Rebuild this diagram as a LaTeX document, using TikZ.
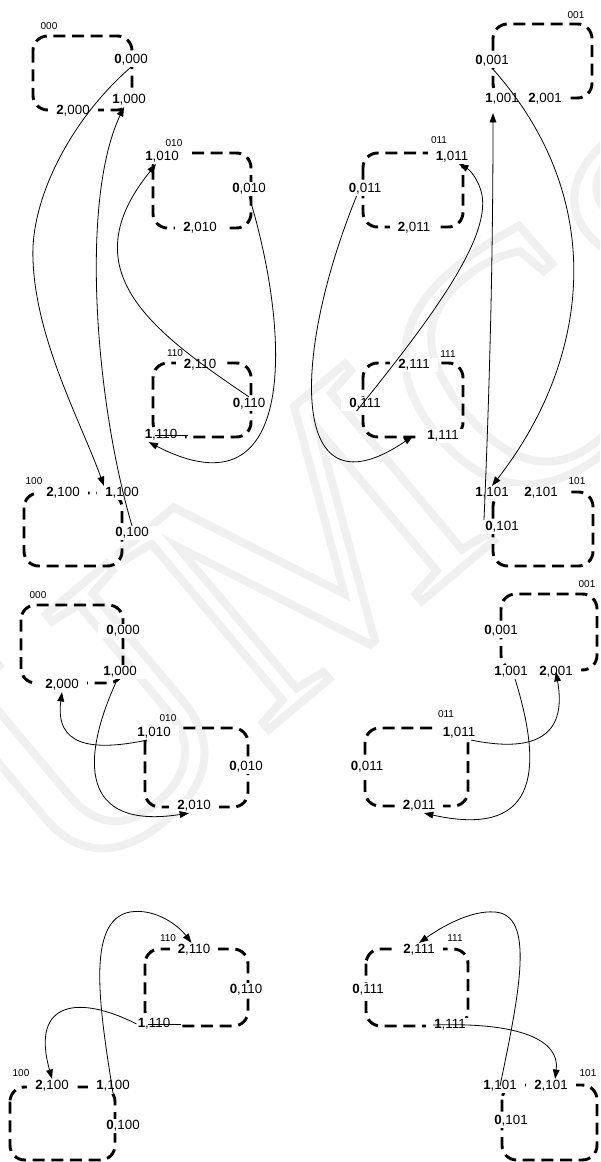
\documentclass[tikz,border=0pt]{standalone}
\usepackage{fontspec}
\setmainfont{Liberation Sans}
\newfontfamily\wmfont{Liberation Serif}
\usetikzlibrary{arrows.meta}

\begin{document}
\begin{tikzpicture}%
        [x=0.75pt,
        y=-0.75pt,
        box/.style={draw=black, line width=2.2pt, rounded corners=11pt, dash pattern=on 9pt off 5pt},
        lab/.style={fill=white, inner xsep=6pt, inner ysep=1pt, outer xsep=-5pt, font=\fontsize{10}{12}\selectfont},
        tag/.style={inner sep=0pt, font=\fontsize{7.5}{9}\selectfont},
        edge/.style={line width=0.6pt, -{Triangle[length=7pt,width=5pt]}},
        stub/.style={line width=0.6pt},
        wmark/.style={inner sep=0pt, rotate=40, text=black!6, font=\wmfont\fontsize{265}{265}\selectfont}]
    %
    \useasboundingbox (0,0) rectangle (600,1162);
    %
    %% Watermark (outlined letters)
    \begin{scope}
    \clip (0,0) rectangle (600,1162);
    \node[wmark] (wm) at (375,490) {\special{pdf:code 1 Tr 6 w}UMCS\special{pdf:code 0 Tr}};
    \end{scope}
    %%
    %%
    %% Drawing the states (upper diagram)
    %%
    \draw[box] (33,36) rectangle (132,110);
    \draw[box] (153,153) rectangle (251,228);
    \draw[box] (493,24) rectangle (592,98);
    \draw[box] (363,153) rectangle (463,227);
    \draw[box] (153,363) rectangle (251,437);
    \draw[box] (24,493) rectangle (122,566);
    \draw[box] (363,363) rectangle (463,437);
    \draw[box] (493,492) rectangle (593,566);
    %%
    %% Drawing the states (lower diagram)
    %%
    \draw[box] (21,605) rectangle (123,683);
    \draw[box] (145,728) rectangle (248,807);
    \draw[box] (501,594) rectangle (597,670);
    \draw[box] (365,728) rectangle (468,806);
    \draw[box] (145,949) rectangle (248,1026);
    \draw[box] (10,1087) rectangle (115,1160);
    \draw[box] (366,949) rectangle (468,1026);
    \draw[box] (502,1085) rectangle (597,1160);
    %%
    %%
    %% Labels (upper diagram)
    %%
    \node[lab] (t000-0) at (131,60) {\textbf{0},000};
    \node[lab] (t000-1) at (129,100) {\textbf{1},000};
    \node[lab] (t000-2) at (73,111) {\textbf{2},000};
    \node[lab] (t010-1) at (162,157) {\textbf{1},010};
    \node[lab] (t010-0) at (249,189) {\textbf{0},010};
    \node[lab] (t010-2) at (200,228) {\textbf{2},010};
    \node[lab] (t001-0) at (492,61) {\textbf{0},001};
    \node[lab] (t001-1) at (502,99) {\textbf{1},001};
    \node[lab] (t001-2) at (545,99) {\textbf{2},001};
    \node[lab] (t011-1) at (452,157) {\textbf{1},011};
    \node[lab] (t011-0) at (365,189) {\textbf{0},011};
    \node[lab] (t011-2) at (414,228) {\textbf{2},011};
    \node[lab] (t110-2) at (200,365) {\textbf{2},110};
    \node[lab] (t110-0) at (249,404) {\textbf{0},110};
    \node[lab] (t110-1) at (161,435) {\textbf{1},110};
    \node[lab] (t100-2) at (63,493) {\textbf{2},100};
    \node[lab] (t100-1) at (122,493) {\textbf{1},100};
    \node[lab] (t100-0) at (132,533) {\textbf{0},100};
    \node[lab] (t111-2) at (414,365) {\textbf{2},111};
    \node[lab] (t111-0) at (365,404) {\textbf{0},111};
    \node[lab] (t111-1) at (443,436) {\textbf{1},111};
    \node[lab] (t101-1) at (492,493) {\textbf{1},101};
    \node[lab] (t101-2) at (541,493) {\textbf{2},101};
    \node[lab] (t101-0) at (502,527) {\textbf{0},101};
    %%
    \node[tag] (t000) at (49,26) {000};
    \node[tag] (t010) at (174,143) {010};
    \node[tag] (t001) at (576,15) {001};
    \node[tag] (t011) at (439,140) {011};
    \node[tag] (t110) at (175,353) {110};
    \node[tag] (t100) at (34,481) {100};
    \node[tag] (t111) at (448,354) {111};
    \node[tag] (t101) at (577,481) {101};
    %%
    %% Labels (lower diagram)
    %%
    \node[lab] (b000-0) at (123,631) {\textbf{0},000};
    \node[lab] (b000-1) at (120,672) {\textbf{1},000};
    \node[lab] (b000-2) at (62,685) {\textbf{2},000};
    \node[lab] (b010-1) at (154,733) {\textbf{1},010};
    \node[lab] (b010-0) at (246,767) {\textbf{0},010};
    \node[lab] (b010-2) at (194,806) {\textbf{2},010};
    \node[lab] (b001-0) at (501,631) {\textbf{0},001};
    \node[lab] (b001-1) at (511,672) {\textbf{1},001};
    \node[lab] (b001-2) at (556,672) {\textbf{2},001};
    \node[lab] (b011-1) at (459,733) {\textbf{1},011};
    \node[lab] (b011-0) at (367,767) {\textbf{0},011};
    \node[lab] (b011-2) at (419,806) {\textbf{2},011};
    \node[lab] (b110-2) at (194,950) {\textbf{2},110};
    \node[lab] (b110-0) at (246,990) {\textbf{0},110};
    \node[lab] (b110-1) at (154,1024) {\textbf{1},110};
    \node[lab] (b100-2) at (52,1086) {\textbf{2},100};
    \node[lab] (b100-1) at (113,1086) {\textbf{1},100};
    \node[lab] (b100-0) at (123,1126) {\textbf{0},100};
    \node[lab] (b111-2) at (419,950) {\textbf{2},111};
    \node[lab] (b111-0) at (368,990) {\textbf{0},111};
    \node[lab] (b111-1) at (450,1025) {\textbf{1},111};
    \node[lab] (b101-1) at (500,1086) {\textbf{1},101};
    \node[lab] (b101-2) at (551,1086) {\textbf{2},101};
    \node[lab] (b101-0) at (511,1121) {\textbf{0},101};
    %%
    \node[tag] (b000) at (38,595) {000};
    \node[tag] (b010) at (168,718) {010};
    \node[tag] (b001) at (587,584) {001};
    \node[tag] (b011) at (446,714) {011};
    \node[tag] (b110) at (168,938) {110};
    \node[tag] (b100) at (21,1073) {100};
    \node[tag] (b111) at (455,938) {111};
    \node[tag] (b101) at (588,1073) {101};
    %%
    %%
    %% Transitions (upper diagram)
    %%
    \draw[edge] (t000-0.south) .. controls (70,120) and (30,200) .. (33,260) .. controls (36,340) and (80,420) .. (t100-1.north west);
    \draw[edge] (t100-0.north) .. controls (95,400) and (80,200) .. (t000-1.235);
    \draw[edge] (t110-0.north) .. controls (150,330) and (70,270) .. (t010-1.230);
    \draw[edge] (t010-0.south) .. controls (290,330) and (300,520) .. (t110-1.210);
    \draw[edge] (t011-0.220) .. controls (290,360) and (290,520) .. ([xshift=-9.75pt]t111-1.west);
    \draw[edge] (t111-0.220) .. controls (430,320) and (490,240) .. (482,195) .. controls (479,180) and (470,170) .. (t011-1.315);
    \draw[edge] (t101-0.north west) .. controls (490,380) and (493,250) .. ([shift={(-9,7)}]t001-1.south);
    \draw[edge] (t001-0.south) .. controls (610,200) and (590,360) .. (t101-1.north);
    \draw[stub] ([xshift=-4.5pt]t110-1.center) -- ([xshift=6.75pt]t110-1.east);
    %%
    %% Transitions (lower diagram)
    %%
    \draw[edge] (b000-1.250) .. controls (80,760) and (80,830) .. (b010-2.235);
    \draw[edge] (b010-1.225) .. controls (90,752) and (55,745) .. (b000-2.south);
    \draw[edge] (b001-1.300) .. controls (540,760) and (545,840) .. (b011-2.305);
    \draw[edge] (b011-1.330) .. controls (530,752) and (568,740) .. (b001-2.center);
    \draw[edge] (b100-1.south) .. controls (100,1010) and (85,920) .. (130,912) .. controls (155,908) and (178,925) .. (b110-2.110);
    \draw[edge] (b110-1.west) .. controls (80,995) and (30,1000) .. (b100-2.north);
    \draw[edge] (b111-1.west) .. controls (520,1022) and (560,1040) .. (b101-2.60);
    \draw[edge] (b101-1.center) .. controls (520,990) and (535,915) .. (495,912) .. controls (470,910) and (440,928) .. (b111-2.north);
    \draw[stub] ([xshift=-4.5pt]b110-1.center) -- ([xshift=6.75pt]b110-1.east);
    %%
    %%
    \end{tikzpicture}
\end{document}
